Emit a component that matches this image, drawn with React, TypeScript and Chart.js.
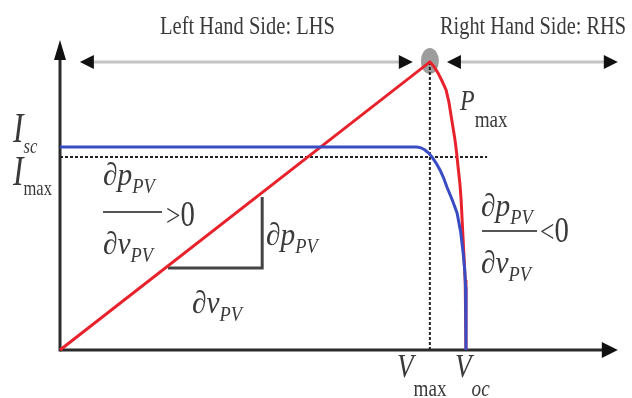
import React, { useEffect, useRef } from "react";
import { Chart, registerables } from "chart.js";

Chart.register(...registerables);

// Key operating points (normalised: V / Voc, I / Isc, power on the same vertical scale)
const V_OC = 1.0;
const V_MAX = 0.911;
const I_SC = 1.0;
const I_MAX = 0.951;
const P_MAX = 1.419;

// I-V curve (blue)
const ivVoltage = [0, 0.879, 0.889, 0.899, 0.908, 0.916, 0.926, 0.936, 0.945, 0.953, 0.966, 0.978, 0.987, 0.993, 0.997, 0.999, 1.0, 1.0];
const ivCurrent = [1.0, 1.0, 0.996, 0.985, 0.97, 0.951, 0.922, 0.887, 0.847, 0.803, 0.74, 0.675, 0.58, 0.478, 0.39, 0.31, 0.148, 0];

// P-V curve (red)
const pvVoltage = [0, 0.911, 0.921, 0.931, 0.941, 0.951, 0.958, 0.963, 0.968, 0.973, 0.977, 0.98, 0.985, 0.988, 0.993, 0.998, 1.0, 1.0];
const pvPower = [0, 1.419, 1.397, 1.365, 1.325, 1.281, 1.22, 1.158, 1.096, 1.034, 0.97, 0.911, 0.82, 0.739, 0.542, 0.345, 0.148, 0];

// Guides
const imaxGuideX = [0, 1.052];
const imaxGuideY = [I_MAX, I_MAX];
const vmaxGuideX = [V_MAX, V_MAX];
const vmaxGuideY = [0, P_MAX];
const triangleX = [0.266, 0.498, 0.498];
const triangleY = [0.404, 0.404, 0.754];

// Region arrows / axes extents
const lhsArrowX = [0.049, 0.869];
const rhsArrowX = [0.953, 1.374];
const xAxisEnd = 1.374;
const yAxisEnd = 1.527;

const X_MIN = -0.1478;
const X_MAX = 1.4089;
const Y_MIN = -0.2365;
const Y_MAX = 1.7241;

const toPoints = (xs: number[], ys: number[]) => xs.map((x, i) => ({ x, y: ys[i] }));

const SERIF = '"Liberation Serif", "DejaVu Serif", serif';
const TEXT = "#3a3a3a";
const SX = 0.8;

type Run = { t: string; size: number; italic?: boolean; dy?: number };

function drawRuns(ctx: CanvasRenderingContext2D, x: number, y: number, runs: Run[], sx = SX) {
  let cx = x;
  for (const r of runs) {
    ctx.font = `${r.italic ? "italic " : ""}${r.size}px ${SERIF}`;
    const w = ctx.measureText(r.t).width * sx;
    ctx.save();
    ctx.translate(cx, y + (r.dy || 0));
    ctx.scale(sx, 1);
    ctx.fillText(r.t, 0, 0);
    ctx.restore();
    cx += w;
  }
  return cx;
}

function drawFit(ctx: CanvasRenderingContext2D, text: string, x: number, y: number, width: number, size: number) {
  ctx.font = `${size}px ${SERIF}`;
  const w = ctx.measureText(text).width;
  ctx.save();
  ctx.translate(x, y);
  ctx.scale(width / w, 1);
  ctx.fillText(text, 0, 0);
  ctx.restore();
}

function head(ctx: CanvasRenderingContext2D, tx: number, ty: number, dx: number, dy: number, len: number, half: number) {
  const bx = tx - dx * len;
  const by = ty - dy * len;
  const nx = -dy;
  const ny = dx;
  ctx.beginPath();
  ctx.moveTo(tx, ty);
  ctx.lineTo(bx + nx * half, by + ny * half);
  ctx.lineTo(bx - nx * half, by - ny * half);
  ctx.closePath();
  ctx.fill();
}

const diagramPlugin = {
  id: "diagram",
  beforeDatasetsDraw(chart: any) {
    const { ctx, scales } = chart;
    const px = (v: number) => scales.x.getPixelForValue(v);
    const py = (v: number) => scales.y.getPixelForValue(v);
    ctx.save();
    // axes
    ctx.strokeStyle = "#2b2b2b";
    ctx.fillStyle = "#111";
    ctx.lineWidth = 3;
    ctx.beginPath();
    ctx.moveTo(px(0), py(0));
    ctx.lineTo(px(xAxisEnd) - 12, py(0));
    ctx.stroke();
    head(ctx, px(xAxisEnd), py(0), 1, 0, 16, 8);
    ctx.beginPath();
    ctx.moveTo(px(0), py(0) + 1.5);
    ctx.lineTo(px(0), py(yAxisEnd) + 14);
    ctx.stroke();
    head(ctx, px(0), py(yAxisEnd), 0, -1, 20, 6);

    // gray marker at Pmax
    ctx.fillStyle = "rgba(140,140,140,0.85)";
    ctx.beginPath();
    ctx.ellipse(px(V_MAX), py(P_MAX) - 1, 9, 13, 0, 0, Math.PI * 2);
    ctx.fill();

    // region arrows
    const ay = py(P_MAX);
    ctx.strokeStyle = "#c4c4c4";
    ctx.lineWidth = 3;
    ctx.beginPath();
    ctx.moveTo(px(lhsArrowX[0]) + 8, ay);
    ctx.lineTo(px(lhsArrowX[1]) - 8, ay);
    ctx.moveTo(px(rhsArrowX[0]) + 8, ay);
    ctx.lineTo(px(rhsArrowX[1]) - 8, ay);
    ctx.stroke();
    ctx.fillStyle = "#111";
    head(ctx, px(lhsArrowX[0]), ay, -1, 0, 14, 7);
    head(ctx, px(lhsArrowX[1]), ay, 1, 0, 14, 7);
    head(ctx, px(rhsArrowX[0]), ay, -1, 0, 14, 7);
    head(ctx, px(rhsArrowX[1]), ay, 1, 0, 14, 7);
    ctx.restore();
  },
  afterDatasetsDraw(chart: any) {
    const { ctx } = chart;
    ctx.save();
    ctx.fillStyle = TEXT;
    ctx.textBaseline = "alphabetic";

    drawFit(ctx, "Left Hand Side: LHS", 160, 34, 175, 26);
    drawFit(ctx, "Right Hand Side: RHS", 440, 34, 186, 26);

    // I_sc, I_max
    drawRuns(ctx, 13, 142, [{ t: "I", size: 42, italic: true }, { t: "sc", size: 22, italic: true, dy: 11 }], 0.75);
    drawRuns(ctx, 13, 185, [{ t: "I", size: 42, italic: true }, { t: "max", size: 22, dy: 10 }], 0.75);

    // P_max
    drawRuns(ctx, 460, 110, [{ t: "P", size: 30, italic: true }, { t: "max", size: 24, dy: 17 }]);
    // V_max, V_oc
    drawRuns(ctx, 397, 377, [{ t: "V", size: 34, italic: true }, { t: "max", size: 24, dy: 19 }]);
    drawRuns(ctx, 455, 377, [{ t: "V", size: 34, italic: true }, { t: "oc", size: 24, italic: true, dy: 19 }]);

    const FS = 0.92;
    const dp = (x: number, y: number) =>
      drawRuns(ctx, x, y, [{ t: "\u2202", size: 32 }, { t: "p", size: 32, italic: true }, { t: "PV", size: 20, italic: true, dy: 8 }], FS);
    const dv = (x: number, y: number) =>
      drawRuns(ctx, x, y, [{ t: "\u2202", size: 32 }, { t: "v", size: 32, italic: true }, { t: "PV", size: 20, italic: true, dy: 8 }], FS);

    ctx.strokeStyle = "#555";
    ctx.lineWidth = 2;

    // LHS fraction
    dp(103, 185);
    ctx.beginPath();
    ctx.moveTo(103, 212);
    ctx.lineTo(162, 212);
    ctx.stroke();
    dv(103, 254);
    drawRuns(ctx, 166, 226, [{ t: ">", size: 32 }, { t: "0", size: 36 }]);

    // triangle labels
    dp(266, 245);
    dv(192, 313);

    // RHS fraction
    dp(481, 216);
    ctx.beginPath();
    ctx.moveTo(482, 231);
    ctx.lineTo(537, 231);
    ctx.stroke();
    dv(481, 273);
    drawRuns(ctx, 540, 242, [{ t: "<", size: 32 }, { t: "0", size: 36 }]);

    ctx.restore();
  },
};

export default function App() {
  const ref = useRef<HTMLCanvasElement | null>(null);
  useEffect(() => {
    document.body.style.margin = "0";
    const canvas = ref.current!;
    const chart = new Chart(canvas, {
      type: "line",
      data: {
        datasets: [
          {
            label: "I-V",
            data: toPoints(ivVoltage, ivCurrent),
            borderColor: "#3a4cc4",
            borderWidth: 3,
            pointRadius: 0,
            tension: 0,
            order: 0,
          },
          {
            label: "P-V",
            data: toPoints(pvVoltage, pvPower),
            borderColor: "#e8222c",
            borderWidth: 3,
            pointRadius: 0,
            tension: 0,
            order: 1,
          },
          {
            label: "Imax",
            data: toPoints(imaxGuideX, imaxGuideY),
            borderColor: "#222",
            borderWidth: 2,
            borderDash: [3, 2],
            pointRadius: 0,
            order: 2,
          },
          {
            label: "Vmax",
            data: toPoints(vmaxGuideX, vmaxGuideY),
            borderColor: "#222",
            borderWidth: 2,
            borderDash: [3, 2],
            pointRadius: 0,
            order: 3,
          },
          {
            label: "slope",
            data: toPoints(triangleX, triangleY),
            borderColor: "#444",
            borderWidth: 3,
            pointRadius: 0,
            order: 4,
          },
        ],
      },
      options: {
        animation: false,
        responsive: false,
        maintainAspectRatio: false,
        layout: { padding: 0 },
        plugins: {
          legend: { display: false },
          tooltip: { enabled: false },
          title: { display: false },
        },
        scales: {
          x: { type: "linear", min: X_MIN, max: X_MAX, display: false },
          y: { type: "linear", min: Y_MIN, max: Y_MAX, display: false },
        },
      },
      plugins: [diagramPlugin],
    });
    return () => chart.destroy();
  }, []);
  return <canvas ref={ref} width={632} height={398} style={{ display: "block" }} />;
}
